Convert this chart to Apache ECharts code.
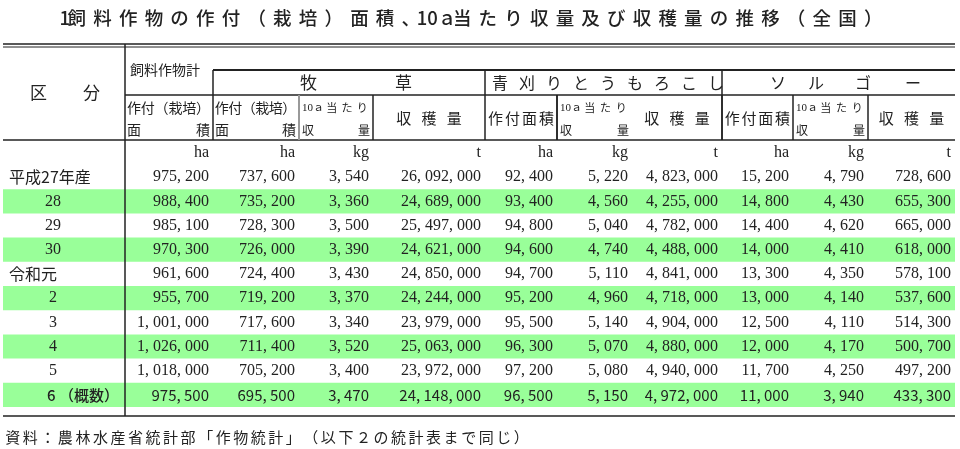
<!DOCTYPE html><html><head><meta charset="utf-8"><script src="https://cdn.jsdelivr.net/npm/echarts@6/dist/echarts.min.js"></script>
<style>html,body{margin:0;background:#fff}#c{width:960px;height:449px}</style></head><body><div id="c"></div><script>
const rows=['平成27年産','28','29','30','令和元','2','3','4','5','6 （概数）'];
const totalArea=[975200,988400,985100,970300,961600,955700,1001000,1026000,1018000,975500];
const pastureArea=[737600,735200,728300,726000,724400,719200,717600,711400,705200,695500];
const pastureYield=[3540,3360,3500,3390,3430,3370,3340,3520,3400,3470];
const pastureHarvest=[26092000,24689000,25497000,24621000,24850000,24244000,23979000,25063000,23972000,24148000];
const cornArea=[92400,93400,94800,94600,94700,95200,95500,96300,97200,96500];
const cornYield=[5220,4560,5040,4740,5110,4960,5140,5070,5080,5150];
const cornHarvest=[4823000,4255000,4782000,4488000,4841000,4718000,4904000,4880000,4940000,4972000];
const sorghumArea=[15200,14800,14400,14000,13300,13000,12500,12000,11700,11000];
const sorghumYield=[4790,4430,4620,4410,4350,4140,4110,4170,4250,3940];
const sorghumHarvest=[728600,655300,665000,618000,578100,537600,514300,500700,497200,433300];
const units=['ha','ha','kg','t','ha','kg','t','ha','kg','t'];
const greenRows=[1,3,5,7,9];

const cols=[totalArea,pastureArea,pastureYield,pastureHarvest,cornArea,cornYield,cornHarvest,sorghumArea,sorghumYield,sorghumHarvest];
const edges=[0,122,210,296,370,482,554,629,719,790,865,952]; // layout (x within grid)
const GL=3, GT=165, RH=24.2;
const fmt=v=>v.toLocaleString('en-US').replace(/,/g,', ');
const serif='"Liberation Serif","DejaVu Serif","Noto Sans CJK JP",serif';
const sans='"Noto Sans CJK JP","Noto Sans",sans-serif';
const data=rows.map((r,i)=>[i,...cols.map(c=>c[i])]);
const chart=echarts.init(document.getElementById('c'));
const g=[];
const X=e=>GL+e;
function line(x1,y1,x2,y2,w,c){g.push({type:'line',shape:{x1,y1,x2,y2},style:{stroke:c||'#222',lineWidth:w||1},z:10});}
function txt(x,y,t,o){g.push({type:'text',x,y,style:Object.assign({text:t,fill:'#222',font:'15px '+sans,align:'left',verticalAlign:'middle'},o||{}),z:11});}
function spread(x1,x2,y,t,f){const c=t.split('');const w=(x2-x1)/c.length;c.forEach((ch,i)=>txt(x1+w*(i+0.5),y,ch,{font:f,align:'center'}));}
// title
spread(64,886,18,'飼料作物の作付（栽培）面積、10ａ当たり収量及び収穫量の推移（全国）'.replace('10ａ','⑩'),'500 18.5px '+sans);
g.forEach(e=>{if(e.style.text==='⑩'){e.style.text='10ａ';}});
txt(70,18,'1',{font:'500 18.5px '+sans,align:'right'});
// header lines
line(3,44,955,44,1.5);line(3,47,955,47,1);
line(X(edges[2]),70,955,70,2.2);
line(X(edges[1]),95,955,95,1.5);
line(3,140,955,140,1.5);
line(3,416,955,416,1.5);
line(X(edges[1]),44,X(edges[1]),416,1.5);
line(X(edges[2]),70,X(edges[2]),140,1.5);
line(X(edges[3]),95,X(edges[3]),140,2,'#999');
[4,6,8,9,10].forEach(k=>line(X(edges[k]),95,X(edges[k]),140,1.5));
line(X(edges[5]),70,X(edges[5]),140,1.5);line(X(edges[8]),70,X(edges[8]),140,1.5);
line(X(edges[6]),95,X(edges[6]),140,1.5);
// header text
txt(30,93,'区',{font:'17px '+sans});txt(83,93,'分',{font:'17px '+sans});
txt(130,70,'飼料作物計',{font:'14px '+sans});
txt(300,83,'牧',{font:'17px '+sans});txt(395,83,'草',{font:'17px '+sans});
'青刈りとうもろこし'.split('').forEach((ch,i)=>txt(492+i*27,83,ch,{font:'16px '+sans}));
[['ソ',770],['ル',808],['ゴ',855],['ー',905]].forEach(a=>txt(a[1],83,a[0],{font:'16px '+sans}));
[1,2].forEach(k=>{const a=X(edges[k])+2,b=X(edges[k+1])-3;
 spread(a,b,108,'作付（栽培）','14px '+sans);txt(a,130,'面',{font:'14px '+sans});txt(b,130,'積',{font:'14px '+sans,align:'right'});});
[3,6,9].forEach(k=>{const a=X(edges[k])+3,b=X(edges[k+1])-3;
 txt(a,108,'10ａ',{font:'11px '+serif});spread(a+22,b,108,'当たり','11px '+sans);txt(a,130,'収',{font:'12px '+sans});txt(b,130,'量',{font:'12px '+sans,align:'right'});});
[4,7,10].forEach(k=>spread((X(edges[k])+X(edges[k+1]))/2-38,(X(edges[k])+X(edges[k+1]))/2+38,118,'収穫量','15px '+sans));
[5,8].forEach(k=>spread(X(edges[k])+2,X(edges[k+1])-2,118,'作付面積','15px '+sans));
units.forEach((u,k)=>txt(X(edges[k+2])-4,153,u,{font:'16px '+serif,align:'right'}));
spread(4,530,437,'資料：農林水産省統計部「作物統計」（以下２の統計表まで同じ）','15px '+sans);

chart.setOption({
 animation:false,
 grid:{left:GL,top:GT,width:952,height:RH*rows.length},
 xAxis:{type:'value',min:0,max:952,show:false},
 yAxis:{type:'value',min:-0.5,max:rows.length-0.5,inverse:true,show:false},
 graphic:g,
 series:[{type:'custom',data,renderItem:(p,api)=>{
   const i=api.value(0);const last=i===rows.length-1;
   const ch=[];
   const top=api.coord([0,i-0.5]),bot=api.coord([952,i+0.5]);
   if(greenRows.includes(i))ch.push({type:'rect',shape:{x:top[0],y:top[1],width:bot[0]-top[0],height:bot[1]-top[1]},style:{fill:'#99ff99'}});
   const c0=api.coord([0,i]);
   const label=rows[i];
   if(i===0||i===4) ch.push({type:'text',x:c0[0]+6,y:c0[1],style:{text:label,font:'16px '+sans,fill:'#222',verticalAlign:'middle'}});
   else if(last) ch.push({type:'text',x:c0[0]+44,y:c0[1],style:{text:'6 （概数）',font:'500 15px '+sans,fill:'#222',verticalAlign:'middle'}});
   else ch.push({type:'text',x:c0[0]+50,y:c0[1],style:{text:label,font:'16px '+serif,fill:'#222',verticalAlign:'middle',align:'center'}});
   for(let k=0;k<cols.length;k++){const pt=api.coord([edges[k+2]-4,i]);
     ch.push({type:'text',x:pt[0],y:pt[1],style:{text:fmt(api.value(k+1)),font:(last?'15px '+sans:'16px '+serif),fill:'#222',align:'right',verticalAlign:'middle'}});}
   return {type:'group',children:ch};
 }}]
});
</script></body></html>
